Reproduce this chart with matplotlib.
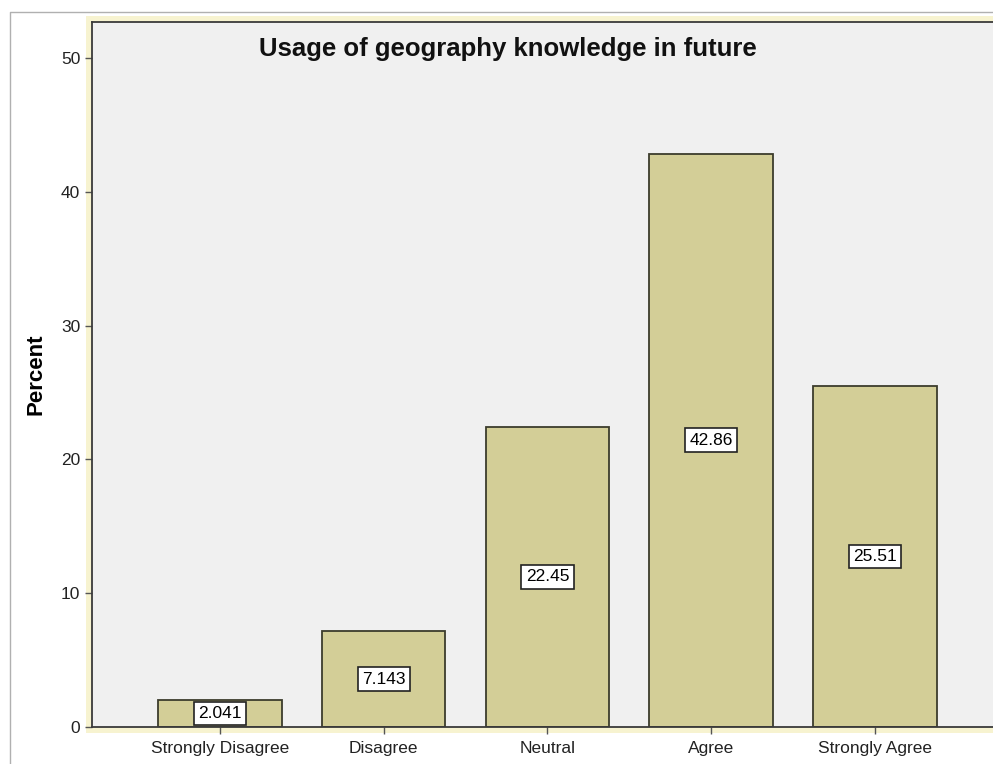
import matplotlib.pyplot as plt
from matplotlib.patches import Rectangle
from matplotlib.lines import Line2D

categories = ["Strongly Disagree", "Disagree", "Neutral", "Agree", "Strongly Agree"]
percent = [2.041, 7.143, 22.45, 42.86, 25.51]
labels = ["2.041", "7.143", "22.45", "42.86", "25.51"]

plt.rcParams['font.family'] = ['Liberation Sans', 'DejaVu Sans']

fig = plt.figure(figsize=(9.93, 7.64), dpi=100)
fig.patch.set_facecolor('white')

# outer frame decorations (pale yellow band + gray border)
W, H = 993, 764
fig.patches.append(Rectangle((86 / W, (764 - 733) / H), (993 - 86) / W, (733 - 16) / H,
                             transform=fig.transFigure, facecolor='#f7f3d0',
                             edgecolor='none', zorder=-1))
fig.lines.append(Line2D([10 / W, 10 / W, 1.0], [0, 1 - 12 / H, 1 - 12 / H],
                        transform=fig.transFigure, color='#b0b0b0', lw=1.0, zorder=-1))

ax = fig.add_axes([92 / W, (764 - 727) / H, 1 - 92 / W + 0.01, (727 - 22) / H])
ax.set_facecolor('#f0f0f0')

x = list(range(len(categories)))
ax.bar(x, percent, width=0.755, color='#d3ce97', edgecolor='#3c3c2c', linewidth=1.3, zorder=2)

for xi, v, lab in zip(x, percent, labels):
    ax.text(xi, v / 2, lab, ha='center', va='center', fontsize=12.5, zorder=3,
            bbox=dict(boxstyle='square,pad=0.25', facecolor='white', edgecolor='#222222', linewidth=1.2))

ax.set_xlim(-0.78, 4.78)
ax.set_ylim(0, 52.7)
ax.set_yticks([0, 10, 20, 30, 40, 50])
ax.set_xticks(x)
ax.set_xticklabels(categories)
ax.tick_params(axis='both', labelsize=12.5, length=5, width=1, color='#555555', colors='#222222')
ax.tick_params(axis='x', pad=5)
for t in ax.yaxis.get_ticklines() + ax.xaxis.get_ticklines():
    t.set_linestyle(':')

for s in ['top', 'left', 'bottom']:
    ax.spines[s].set_color('#3a3a3a')
    ax.spines[s].set_linewidth(1.3)
ax.spines['right'].set_visible(False)

ax.set_ylabel('Percent', fontsize=16, fontweight='bold', labelpad=10)
ax.text(0.456, 0.962, 'Usage of geography knowledge in future', transform=ax.transAxes,
        ha='center', va='center', fontsize=18.5, fontweight='bold', color='#111111')

fig.savefig('out.png', dpi=100)
